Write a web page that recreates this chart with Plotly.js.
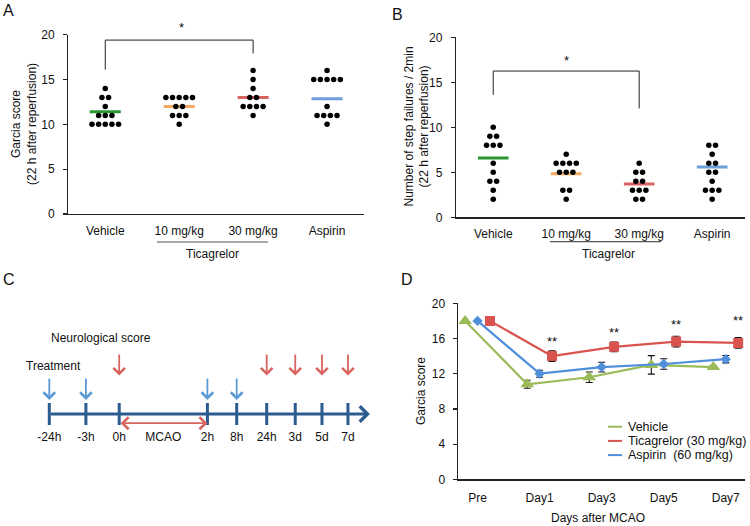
<!DOCTYPE html>
<html>
<head>
<meta charset="utf-8">
<script src="https://cdn.plot.ly/plotly-3.0.1.min.js"></script>
<style>
  html, body { margin: 0; padding: 0; background: #fff; }
  #fig { width: 750px; height: 526px; }
</style>
</head>
<body>
<div id="fig"></div>
<script>
// groups used in panels A and B
const groups = ['Vehicle', '10 mg/kg', '30 mg/kg', 'Aspirin'];
const groupColors = ['#2a9632', '#f7a862', '#d9645f', '#6a9fd9'];

// A: Garcia score (22 h after reperfusion), one value per animal
const garciaVehicle = [14, 13, 13, 12, 11, 11, 11, 10, 10, 10, 10, 10];
const garcia10 = [13, 13, 13, 13, 13, 12, 12, 11, 11, 11, 10];
const garcia30 = [16, 15, 14, 13, 13, 12, 12, 12, 12, 11];
const garciaAspirin = [16, 15, 15, 15, 15, 15, 12, 11, 11, 11, 11, 10];
const garciaMeans = [11.4, 12.0, 13.0, 12.85];

// B: number of step failures / 2 min
const stepVehicle = [10, 9, 9, 8, 8, 8, 6, 5, 4, 4, 3, 2];
const step10 = [7, 6, 6, 6, 6, 5, 5, 5, 3, 3, 2];
const step30 = [6, 5, 5, 4, 4, 3, 3, 3, 2, 2];
const stepAspirin = [8, 8, 7, 6, 6, 5, 5, 4, 3, 3, 3, 2];
const stepMeans = [6.6, 4.85, 3.7, 5.6];

// C: protocol timeline
const timePoints = ['-24h', '-3h', '0h', '2h', '8h', '24h', '3d', '5d', '7d'];
const timePos = [0, 1.0, 1.91, 4.32, 5.12, 5.94, 6.72, 7.45, 8.16];
const treatmentAt = ['-24h', '-3h', '2h', '8h'];
const scoreAt = ['0h', '24h', '3d', '5d', '7d'];

// D: Garcia score over time (mean, error)
const days = ['Pre', 'Day1', 'Day3', 'Day5', 'Day7'];
const seriesNames = ['Vehicle', 'Ticagrelor (30 mg/kg)', 'Aspirin\u00a0 (60 mg/kg)'];
const vehicleMean = [18, 10.8, 11.6, 13.0, 12.75];
const vehicleErr = [0, 0.45, 0.6, 1.05, 0.15];
const ticaMean = [18, 14.0, 15.05, 15.65, 15.5];
const ticaErr = [0, 0.6, 0.55, 0.6, 0.6];
const aspMean = [18, 12.0, 12.75, 13.1, 13.65];
const aspErr = [0, 0.4, 0.55, 0.6, 0.42];
const dayStars = ['**', '**', '**', '**'];
const dayStarY = [16.0, 17.05, 17.95, 18.35];

const font = 'Liberation Sans, Arial, sans-serif';
const W = 750, H = 526;
const px = x => x / W;
const py = y => 1 - y / H;

// beeswarm: same values side by side around the group centre
function swarm(values, center, step) {
    const counts = {}, seen = {};
    values.forEach(v => { counts[v] = (counts[v] || 0) + 1; });
    return values.map(v => {
        const i = seen[v] || 0;
        seen[v] = i + 1;
        return center + (i - (counts[v] - 1) / 2) * step;
    });
}

const traces = [];
const annotations = [];
const shapes = [];
// paper annotation, always centred on its point unless told otherwise
const note = (x, y, text, extra) => Object.assign({x: px(x), y: py(y), xref: 'paper', yref: 'paper',
    xanchor: 'center', yanchor: 'middle', text: text, showarrow: false, font: {size: 12}}, extra || {});

function dotPanel(sets, means, xa, ya, step) {
    means.forEach((m, i) => {
        traces.push({
            x: [i - 0.21, i + 0.21], y: [m, m], xaxis: xa, yaxis: ya,
            mode: 'lines', line: {color: groupColors[i], width: 3}, hoverinfo: 'skip'
        });
    });
    sets.forEach((vals, i) => {
        traces.push({
            x: swarm(vals, i, step), y: vals, xaxis: xa, yaxis: ya,
            mode: 'markers', marker: {color: '#000', size: 5.5}, hoverinfo: 'skip'
        });
    });
}
dotPanel([garciaVehicle, garcia10, garcia30, garciaAspirin], garciaMeans, 'x', 'y', 0.09);
dotPanel([stepVehicle, step10, step30, stepAspirin], stepMeans, 'x2', 'y2', 0.092);

// significance brackets Vehicle vs 30 mg/kg
traces.push({x: [0, 0, 2, 2], y: [16.1, 19.4, 19.4, 17.9], xaxis: 'x', yaxis: 'y',
    mode: 'lines', line: {color: '#222', width: 1}, hoverinfo: 'skip'});
traces.push({x: [0, 0, 2, 2], y: [13.6, 16.25, 16.25, 12.1], xaxis: 'x2', yaxis: 'y2',
    mode: 'lines', line: {color: '#222', width: 1}, hoverinfo: 'skip'});
annotations.push(note(181, 27, '*', {font: {size: 13}}));
annotations.push({x: 1.0, y: 17.8, xref: 'x2', yref: 'y2', text: '*', showarrow: false, yshift: -3,
    xanchor: 'center', yanchor: 'middle', font: {size: 13}});

// Ticagrelor group labels
[['x', 0.7, 2.2, 242, 213], ['x2', 0.78, 2.3, 241.7, 608]].forEach(([xa, a, b, yl, xt]) => {
    shapes.push({type: 'line', xref: xa, yref: 'paper', x0: a, x1: b, y0: py(yl), y1: py(yl),
        line: {color: '#555', width: 1.2}});
    annotations.push(note(xt, yl + 12, 'Ticagrelor'));
});

// y titles for A, B
annotations.push(note(24, 124, 'Garcia score<br>(22 h after reperfusion)', {textangle: -90, font: {size: 12}}));
annotations.push(note(416.5, 127, 'Number of step failures / 2min<br>(22 h after reperfusion)',
    {textangle: -90, font: {size: 12}}));

// C: timeline
const navy = '#2b5b8f', lightBlue = '#5b9bd5', red = '#d9645f';
const posOf = t => timePos[timePoints.indexOf(t)];
annotations.push({x: 8.76, y: 0, ax: 0, ay: 0, xref: 'x3', yref: 'y3', axref: 'x3', ayref: 'y3',
    text: '', showarrow: true, arrowhead: 4, arrowsize: 1.0, arrowwidth: 3, arrowcolor: navy});
traces.push({
    x: timePos.flatMap(p => [p, p, null]),
    y: timePos.flatMap(() => [-0.43, 0.43, null]),
    xaxis: 'x3', yaxis: 'y3', mode: 'lines', line: {color: navy, width: 3}, hoverinfo: 'skip'
});
traces.push({
    x: timePos.concat([(posOf('0h') + posOf('2h')) / 2]),
    y: timePos.map(() => -0.95).concat([-0.95]),
    text: timePoints.concat(['MCAO']),
    xaxis: 'x3', yaxis: 'y3', mode: 'text', textfont: {size: 12, color: '#111'},
    cliponaxis: false, hoverinfo: 'skip'
});
annotations.push({x: posOf('2h'), y: -0.36, ax: posOf('0h'), ay: -0.36, xref: 'x3', yref: 'y3',
    axref: 'x3', ayref: 'y3', text: '', showarrow: true, arrowside: 'end+start', arrowhead: 4,
    startarrowhead: 4, arrowsize: 1.3, startarrowsize: 1.3, arrowwidth: 1.8, arrowcolor: red});
treatmentAt.forEach(t => annotations.push({x: posOf(t), y: 0.55, ax: posOf(t), ay: 1.45,
    xref: 'x3', yref: 'y3', axref: 'x3', ayref: 'y3', text: '', showarrow: true, arrowhead: 4,
    arrowsize: 1.25, arrowwidth: 1.8, arrowcolor: lightBlue}));
scoreAt.forEach(t => annotations.push({x: posOf(t), y: 1.5, ax: posOf(t), ay: 2.38,
    xref: 'x3', yref: 'y3', axref: 'x3', ayref: 'y3', text: '', showarrow: true, arrowhead: 4,
    arrowsize: 1.25, arrowwidth: 1.8, arrowcolor: red}));
annotations.push({x: 0.115, y: 1.88, xref: 'x3', yref: 'y3', text: 'Treatment', showarrow: false,
    xanchor: 'center', yanchor: 'middle', font: {size: 12}});
annotations.push({x: 1.41, y: 2.97, xref: 'x3', yref: 'y3', text: 'Neurological score', showarrow: false,
    xanchor: 'center', yanchor: 'middle', font: {size: 12}});

// D: time course
const dColors = ['#9bbb59', '#d9534f', '#4f8fdc'];
const dSets = [
    {mean: vehicleMean, err: vehicleErr, off: -0.2, sym: 'triangle-up', size: 12, c: 0},
    {mean: aspMean, err: aspErr, off: 0, sym: 'diamond', size: 8, c: 2},
    {mean: ticaMean, err: ticaErr, off: 0.2, sym: 'square', size: 10, c: 1}
];
dSets.forEach(s => {
    const c = dColors[s.c];
    traces.push({
        x: days.map((_, i) => i + s.off), y: s.mean, xaxis: 'x4', yaxis: 'y4',
        mode: 'lines+markers', line: {color: c, width: 2.2},
        marker: {symbol: s.sym, size: s.size, color: c},
        error_y: {type: 'data', array: s.err, visible: true, color: '#111', thickness: 1.1, width: 3.5},
        hoverinfo: 'skip'
    });
});
dayStars.forEach((s, i) => annotations.push({x: i + 1 + 0.2, y: dayStarY[i], xref: 'x4', yref: 'y4',
    text: s, showarrow: false, yshift: -3, xanchor: 'center', yanchor: 'middle', font: {size: 13}}));

// D legend
seriesNames.forEach((n, i) => {
    const yy = 426.7 + i * 14.2;
    shapes.push({type: 'line', xref: 'paper', yref: 'paper', x0: px(608), x1: px(622), y0: py(yy), y1: py(yy),
        line: {color: dColors[i], width: 2}});
    annotations.push(note(626, yy, n, {xanchor: 'left', font: {size: 12.5}}));
});
annotations.push(note(421.7, 391.3, 'Garcia score', {textangle: -90}));
annotations.push(note(598, 518, 'Days after MCAO'));

// panel letters
[['A', 8.5, 10], ['B', 397.5, 15], ['C', 9, 279], ['D', 407, 279]].forEach(([t, x, y]) =>
    annotations.push(note(x, y, t, {font: {size: 16}})));

const valAxis = {showline: true, linecolor: '#222', linewidth: 1.2, ticks: 'outside', ticklen: 4,
    tickwidth: 1.2, tickcolor: '#222', showgrid: false, zeroline: false, tickfont: {size: 12},
    ticklabelstandoff: 6, fixedrange: true};
const catAxis = {showline: true, linecolor: '#222', linewidth: 1.2, ticks: '', showgrid: false,
    zeroline: false, tickfont: {size: 12}, ticklabelstandoff: 5, fixedrange: true};

const layout = {
    width: W, height: H,
    margin: {l: 0, r: 0, t: 0, b: 0},
    paper_bgcolor: '#fff', plot_bgcolor: 'rgba(0,0,0,0)',
    showlegend: false,
    font: {family: font, size: 12, color: '#111'},
    xaxis: Object.assign({}, catAxis, {domain: [px(68.3), px(364)], range: [-0.5, 3.5],
        tickvals: [0, 1, 2, 3], ticktext: groups, anchor: 'y'}),
    yaxis: Object.assign({}, valAxis, {domain: [py(214), py(34.7)], range: [0, 20], dtick: 5, anchor: 'x'}),
    xaxis2: Object.assign({}, catAxis, {domain: [px(456), px(745)], range: [-0.51, 3.45],
        tickvals: [0, 1, 2, 3], ticktext: groups, anchor: 'y2'}),
    yaxis2: Object.assign({}, valAxis, {domain: [py(217.3), py(37.3)], range: [0, 20], dtick: 5, anchor: 'x2'}),
    xaxis3: {domain: [0, 0.5], range: [-1.347, 8.899], visible: false, anchor: 'y3', fixedrange: true},
    yaxis3: {domain: [0, py(270)], range: [-4.375, 5.625], visible: false, anchor: 'x3', fixedrange: true},
    xaxis4: Object.assign({}, catAxis, {domain: [px(457.7), px(745)], range: [-0.32, 4.31],
        tickvals: [0, 1, 2, 3, 4], ticktext: days, anchor: 'y4', ticklabelstandoff: 7}),
    yaxis4: Object.assign({}, valAxis, {domain: [py(479.3), py(303.3)], range: [0, 20], dtick: 4,
        anchor: 'x4', ticklabelstandoff: 5}),
    annotations: annotations,
    shapes: shapes
};

Plotly.newPlot('fig', traces, layout, {displayModeBar: false, staticPlot: true});
</script>
</body>
</html>
